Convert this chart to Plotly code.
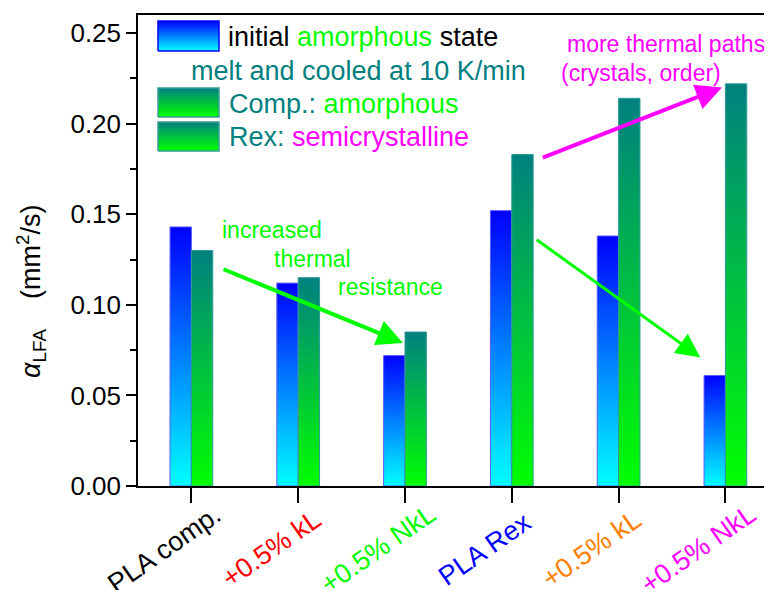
import plotly.graph_objects as go

# ---------------- data ----------------
categories = ["PLA comp.", "+0.5% kL", "+0.5% NkL", "PLA Rex", "+0.5% kL", "+0.5% NkL"]
category_colors = ["#000000", "#FF0000", "#00FF00", "#0000FF", "#FF8000", "#FF00FF"]
initial_amorphous = [0.143, 0.112, 0.072, 0.152, 0.138, 0.061]
melt_cooled = [0.130, 0.115, 0.085, 0.183, 0.214, 0.222]
y_tick_values = [0.00, 0.05, 0.10, 0.15, 0.20, 0.25]
y_tick_labels = ["0.00", "0.05", "0.10", "0.15", "0.20", "0.25"]

# ---------------- layout constants ----------------
PAGE_W, PAGE_H, OFF = 772, 590, 8          # browser body margin is 8 px
W, H = PAGE_W - OFF, PAGE_H - OFF
PL, PT, PB = 138, 15, 486                 # plot area edges in page pixels
ML, MR, MT = PL - OFF, 0, PT - OFF
MB = PAGE_H - PB
PW, PH = PAGE_W - PL, PB - PT
FONT = "Liberation Sans, Arial, sans-serif"
BAR_W = 0.2
X_RANGE = [-0.5, -0.5 + PW / 106.8]
Y_RANGE = [0, 0.26]

BLUE_SCALE = [[0, "#00FFFF"], [1, "#0000FF"]]
GREEN_SCALE = [[0, "#00FF00"], [1, "#008080"]]


def px_x(px):
    return (px - PL) / PW


def px_y(py):
    return (PB - py) / PH


fig = go.Figure()

# bars drawn as gradient-filled rectangles in data coordinates
for i, v in enumerate(initial_amorphous):
    fig.add_trace(go.Scatter(
        x=[i - BAR_W, i - BAR_W, i, i, i - BAR_W], y=[0, v, v, 0, 0],
        mode="lines", fill="toself",
        fillgradient=dict(type="vertical", colorscale=BLUE_SCALE),
        line=dict(color="#5a5aff", width=1), showlegend=False, hoverinfo="skip"))
for i, v in enumerate(melt_cooled):
    fig.add_trace(go.Scatter(
        x=[i, i, i + BAR_W, i + BAR_W, i], y=[0, v, v, 0, 0],
        mode="lines", fill="toself",
        fillgradient=dict(type="vertical", colorscale=GREEN_SCALE),
        line=dict(color="#2c9a9a", width=1), showlegend=False, hoverinfo="skip"))

# legend swatches on an overlay axis measured in page pixels
swatches = [((158, 219), (21, 51), BLUE_SCALE, "#0000FF"),
            ((158, 219), (88, 117), GREEN_SCALE, "#3a9a9a"),
            ((158, 219), (122, 151), GREEN_SCALE, "#3a9a9a")]
for (x0, x1), (y0, y1), cs, lc in swatches:
    fig.add_trace(go.Scatter(
        x=[x0, x0, x1, x1, x0],
        y=[PAGE_H - y1, PAGE_H - y0, PAGE_H - y0, PAGE_H - y1, PAGE_H - y1],
        xaxis="x2", yaxis="y2", mode="lines", fill="toself",
        fillgradient=dict(type="vertical", colorscale=cs),
        line=dict(color=lc, width=1.5), showlegend=False, hoverinfo="skip"))

ann = []
# legend texts
LEG = 27
ann += [
    dict(text='initial <span style="color:#00FF00">amorphous</span> state', x=px_x(226), y=px_y(37),
         font=dict(size=LEG, color="#000000")),
    dict(text="melt and cooled at 10 K/min", x=px_x(189), y=px_y(71), font=dict(size=LEG, color="#008080")),
    dict(text='Comp.: <span style="color:#00FF00">amorphous</span>', x=px_x(227), y=px_y(104),
         font=dict(size=LEG, color="#008080")),
    dict(text='Rex: <span style="color:#FF00FF">semicrystalline</span>', x=px_x(227), y=px_y(137),
         font=dict(size=LEG, color="#008080")),
]
# figure comments
CM = 23
ann += [
    dict(text="increased", x=px_x(220), y=px_y(230), font=dict(size=CM, color="#00FF00")),
    dict(text="thermal", x=px_x(272), y=px_y(259), font=dict(size=CM, color="#00FF00")),
    dict(text="resistance", x=px_x(336), y=px_y(287), font=dict(size=CM, color="#00FF00")),
    dict(text="more thermal paths", x=px_x(565), y=px_y(44), font=dict(size=CM, color="#FF00FF")),
    dict(text="(crystals, order)", x=px_x(559), y=px_y(73), font=dict(size=CM, color="#FF00FF")),
]
for a in ann:
    a.update(xref="paper", yref="paper", xanchor="left", yanchor="middle", showarrow=False,
             font=dict(family=FONT, **a["font"]))

# arrows (data coordinates)
arrows = [((0.287, 0.120), (1.981, 0.079), "#00FF00", 4),
          ((3.276, 0.181), (4.968, 0.220), "#FF00FF", 4),
          ((3.220, 0.1365), (4.765, 0.071), "#00FF00", 3)]
for (sx, sy), (tx, ty), col, w in arrows:
    ann.append(dict(x=tx, y=ty, ax=sx, ay=sy, xref="x", yref="y", axref="x", ayref="y",
                    showarrow=True, arrowhead=2, arrowsize=1.3 if w == 4 else 1.6,
                    arrowwidth=w, arrowcolor=col, text="", standoff=0))

# x category labels (rotated)
for i, (lab, col) in enumerate(zip(categories, category_colors)):
    ann.append(dict(text=lab, x=i, y=px_y(549), xref="x", yref="paper", xshift=-27,
                    textangle=-35, xanchor="center", yanchor="middle", showarrow=False,
                    font=dict(family=FONT, size=27, color=col)))

# y-axis title
ann.append(dict(text="<i>α</i><sub>LFA</sub>\u00a0\u00a0\u00a0\u00a0(mm<sup>2</sup>/s)",
                x=px_x(31), y=px_y(291), xref="paper", yref="paper", textangle=-90,
                xanchor="center", yanchor="middle", showarrow=False,
                font=dict(family=FONT, size=27, color="#000000")))

fig.update_layout(
    width=W, height=H,
    margin=dict(l=ML, r=MR, t=MT, b=MB, pad=0),
    paper_bgcolor="white", plot_bgcolor="white",
    font=dict(family=FONT, color="#000000"),
    showlegend=False, hovermode=False,
    xaxis=dict(range=X_RANGE, tickvals=list(range(len(categories))), showticklabels=False,
               ticks="outside", ticklen=15, tickwidth=1.5, tickcolor="#000000",
               showline=True, linecolor="#000000", linewidth=1.5, mirror=True,
               showgrid=False, zeroline=False, fixedrange=True),
    yaxis=dict(range=Y_RANGE, tickvals=y_tick_values, ticktext=y_tick_labels,
               ticks="outside", ticklen=10, tickwidth=1.5, tickcolor="#000000",
               tickfont=dict(size=26, family=FONT, color="#000000"),
               minor=dict(dtick=0.025, tick0=0, ticks="outside", ticklen=6, tickwidth=1.5,
                          tickcolor="#000000"),
               showline=True, linecolor="#000000", linewidth=1.5,
               showgrid=False, zeroline=False, fixedrange=True),
    xaxis2=dict(overlaying="x", anchor="y2", range=[PL, PAGE_W], visible=False, fixedrange=True),
    yaxis2=dict(overlaying="y", anchor="x2", range=[PAGE_H - PB, PAGE_H - PT], visible=False,
                fixedrange=True),
    annotations=ann,
)

fig.write_html("out.html")
